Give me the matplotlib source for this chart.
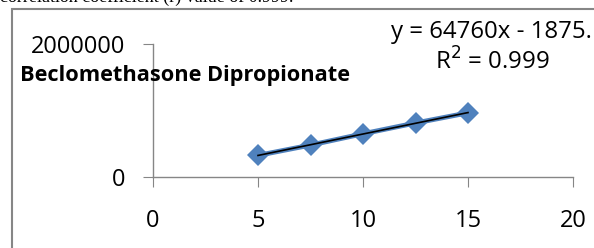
import matplotlib.pyplot as plt
from matplotlib.patches import Rectangle
import numpy as np

# concentration vs peak area
conc = [5, 7.5, 10, 12.5, 15]
area = [325000, 480000, 650000, 812000, 965000]

x_ticks = [0, 5, 10, 15, 20]
y_ticks = [0, 2000000]

title = "Beclomethasone Dipropionate"
equation = "y = 64760x - 1875."
r_squared = "R$^2$ = 0.999"
caption = "correlation coefficient (r) value of 0.999."

blue = "#4F81BD"
grey = "#868686"


def main():
    plt.rcParams["font.family"] = ["Open Sans", "DejaVu Sans"]
    fig = plt.figure(figsize=(5.94, 2.48), dpi=100)

    # cropped document text above the chart
    fig.text(0.0, 1 - 2 / 248, caption, family="Liberation Serif", fontsize=13,
             ha="left", va="baseline", color="black")

    # chart frame
    fig.patches.append(Rectangle((12 / 594, -0.1), 1.0, 1.1 - 9 / 248,
                                 transform=fig.transFigure, fill=False,
                                 edgecolor=grey, linewidth=1.5, clip_on=False))

    ax = fig.add_axes([153 / 594, 1 - 177 / 248, 420 / 594, 133 / 248])
    ax.plot(conc, area, color=blue, linewidth=3.5, marker="D", markersize=11,
            markeredgewidth=0, zorder=2)

    slope, intercept = np.polyfit(conc, area, 1)
    xs = np.array([conc[0], conc[-1]])
    ax.plot(xs, slope * xs + intercept, color="black", linewidth=1.2, zorder=3)

    ax.set_xlim(0, 20)
    ax.set_ylim(0, 2000000)
    ax.set_xticks(x_ticks)
    ax.set_yticks(y_ticks)
    ax.set_yticklabels([str(v) for v in y_ticks])
    for s in ["top", "right"]:
        ax.spines[s].set_visible(False)
    for s in ["left", "bottom"]:
        ax.spines[s].set_color(grey)
        ax.spines[s].set_linewidth(1)
    ax.tick_params(axis="both", direction="out", length=7, color=grey,
                   labelsize=17, labelcolor="black")
    ax.tick_params(axis="x", pad=16)
    ax.tick_params(axis="y", pad=13)
    ax.set_facecolor("none")

    fig.text(20 / 594, 1 - 76 / 248, title, fontsize=15.7, fontweight="bold",
             ha="left", va="center")
    fig.text(592 / 594, 1 - 32 / 248, equation, fontsize=17.3, ha="right", va="center")
    fig.text(492 / 594, 1 - 62 / 248, r_squared, fontsize=17.3, ha="center", va="center")

    fig.savefig("out.png", dpi=100)


if __name__ == "__main__":
    main()
